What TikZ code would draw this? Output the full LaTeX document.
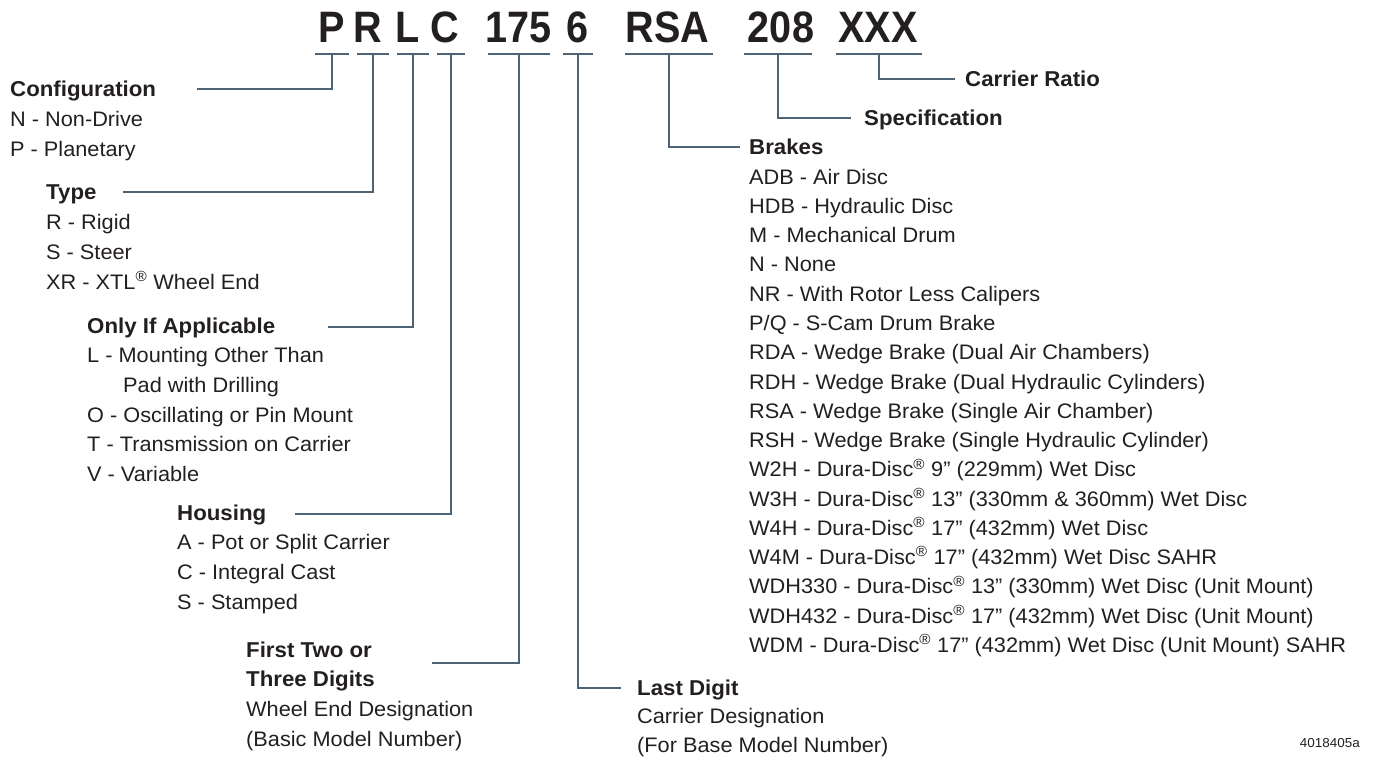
\documentclass[tikz,border=0pt]{standalone}
\usepackage{fontspec}
\setmainfont[FakeStretch=1.035]{Liberation Sans}
\newfontfamily\hdrfont[FakeStretch=0.9]{Liberation Sans}
\definecolor{txt}{RGB}{35,31,32}
\definecolor{lnc}{RGB}{78,99,118}
\tikzset{
  hdr/.style={font=\hdrfont\bfseries\fontsize{44}{44}\selectfont, text=txt, inner sep=0pt, anchor=base},
  uline/.style={inner sep=0pt, minimum height=0pt},
  head/.style={font=\bfseries\fontsize{21.5}{24}\selectfont, text=txt, inner sep=0pt, anchor=base west},
  item/.style={font=\fontsize{21}{24}\selectfont, text=txt, inner sep=0pt, anchor=base west},
  conn/.style={draw=lnc, line width=1.5pt},
  fig/.style={font=\fontsize{13}{15}\selectfont, text=txt, inner sep=0pt, anchor=base east},
}
\newcommand{\reg}{\textsuperscript{®}}
\begin{document}
\begin{tikzpicture}[x=1pt,y=-1pt]
\useasboundingbox (0,0) rectangle (1378,759);
% header
\node[hdr] (tP) at (331.5,43) {P};
\node[hdr] (tR) at (368,43) {R};
\node[hdr] (tL) at (407.5,43) {L};
\node[hdr] (tC) at (444.5,43) {C};
\node[hdr] (t175) at (518.5,43) {175};
\node[hdr] (t6) at (577.5,43) {6};
\node[hdr] (tRSA) at (667.5,43) {RSA};
\node[hdr] (t208) at (781,43) {208};
\node[hdr] (tXXX) at (878,43) {XXX};
% underlines
\node[uline, minimum width=33pt] (uP) at (332,54) {};
\node[uline, minimum width=31pt] (uR) at (373,54) {};
\node[uline, minimum width=31pt] (uL) at (413,54) {};
\node[uline, minimum width=28pt] (uC) at (451,54) {};
\node[uline, minimum width=61pt] (u175) at (519,54) {};
\node[uline, minimum width=29pt] (u6) at (578,54) {};
\node[uline, minimum width=87pt] (uRSA) at (669,54) {};
\node[uline, minimum width=68pt] (u208) at (778,54) {};
\node[uline, minimum width=86pt] (uXXX) at (879,54) {};
\foreach \u in {uP,uR,uL,uC,u175,u6,uRSA,u208,uXXX}
  \draw[conn] (\u.west) -- (\u.east);
% connector ends
\coordinate (eCfg) at (197,89);
\coordinate (eType) at (123,192);
\coordinate (eOnly) at (328,327);
\coordinate (eHous) at (295,514);
\coordinate (eFirst) at (432,663);
\coordinate (eLast) at (621,688);
\coordinate (eBrk) at (740,147);
\coordinate (eSpec) at (851,118);
\coordinate (eCR) at (955,79);
\draw[conn] (uP.center) |- (eCfg);
\draw[conn] (uR.center) |- (eType);
\draw[conn] (uL.center) |- (eOnly);
\draw[conn] (uC.center) |- (eHous);
\draw[conn] (u175.center) |- (eFirst);
\draw[conn] (u6.center) |- (eLast);
\draw[conn] (uRSA.center) |- (eBrk);
\draw[conn] (u208.center) |- (eSpec);
\draw[conn] (uXXX.center) |- (eCR);
% Configuration
\node[head] (hCfg) at (10,97) {Configuration};
\node[item] (c1) at (10,126.7) {N - Non-Drive};
\node[item] (c2) at (10,156.4) {P - Planetary};
% Type
\node[head] (hType) at (46,200) {Type};
\node[item] (ty1) at (46,229.7) {R - Rigid};
\node[item] (ty2) at (46,259.4) {S - Steer};
\node[item] (ty3) at (46,289.1) {XR - XTL\reg{} Wheel End};
% Only if applicable
\node[head] (hOnly) at (87,333) {Only If Applicable};
\node[item] (o1) at (87,362.7) {L - Mounting Other Than};
\node[item] (o2) at (123,392.4) {Pad with Drilling};
\node[item] (o3) at (87,422.1) {O - Oscillating or Pin Mount};
\node[item] (o4) at (87,451.8) {T - Transmission on Carrier};
\node[item] (o5) at (87,481.5) {V - Variable};
% Housing
\node[head] (hHous) at (177,520) {Housing};
\node[item] (h1) at (177,549.7) {A - Pot or Split Carrier};
\node[item] (h2) at (177,579.4) {C - Integral Cast};
\node[item] (h3) at (177,609.1) {S - Stamped};
% First two or three digits
\node[head] (hFirst1) at (246,657) {First Two or};
\node[head] (hFirst2) at (246,686.7) {Three Digits};
\node[item] (f1) at (246,716.4) {Wheel End Designation};
\node[item] (f2) at (246,746.1) {(Basic Model Number)};
% Last digit
\node[head] (hLast) at (637,695) {Last Digit};
\node[item] (l1) at (637,723.5) {Carrier Designation};
\node[item] (l2) at (637,752) {(For Base Model Number)};
% Specification, carrier ratio
\node[head] (hCR) at (965,87) {Carrier Ratio};
\node[head] (hSpec) at (864,126) {Specification};
% Brakes
\node[head] (hBrk) at (749,155) {Brakes};
\foreach \t [count=\i] in {
  {ADB - Air Disc},
  {HDB - Hydraulic Disc},
  {M - Mechanical Drum},
  {N - None},
  {NR - With Rotor Less Calipers},
  {P/Q - S-Cam Drum Brake},
  {RDA - Wedge Brake (Dual Air Chambers)},
  {RDH - Wedge Brake (Dual Hydraulic Cylinders)},
  {RSA - Wedge Brake (Single Air Chamber)},
  {RSH - Wedge Brake (Single Hydraulic Cylinder)},
  {W2H - Dura-Disc\reg{} 9” (229mm) Wet Disc},
  {W3H - Dura-Disc\reg{} 13” (330mm \& 360mm) Wet Disc},
  {W4H - Dura-Disc\reg{} 17” (432mm) Wet Disc},
  {W4M - Dura-Disc\reg{} 17” (432mm) Wet Disc SAHR},
  {WDH330 - Dura-Disc\reg{} 13” (330mm) Wet Disc (Unit Mount)},
  {WDH432 - Dura-Disc\reg{} 17” (432mm) Wet Disc (Unit Mount)},
  {WDM - Dura-Disc\reg{} 17” (432mm) Wet Disc (Unit Mount) SAHR}}
  \node[item] (br\i) at (749,155+\i*29.25) {\t};
% figure number
\node[fig] (fignum) at (1360,747) {4018405a};
\end{tikzpicture}
\end{document}
